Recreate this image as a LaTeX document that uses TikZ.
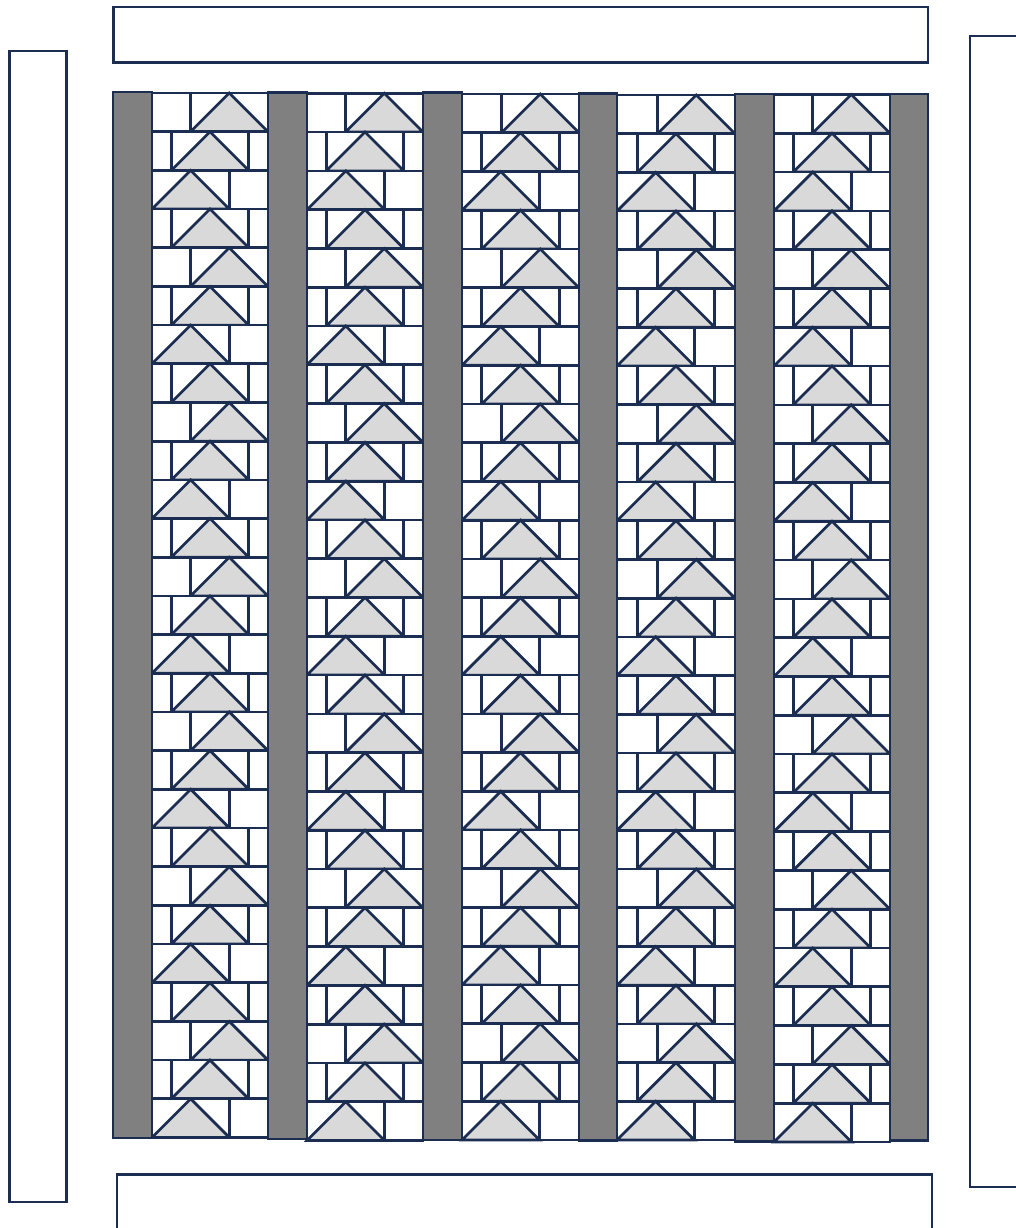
\documentclass[tikz,border=0pt]{standalone}
\definecolor{navy}{RGB}{28,45,82}
\definecolor{sashgray}{RGB}{128,128,128}
\definecolor{goosegray}{RGB}{217,217,217}
\begin{document}
\begin{tikzpicture}[x=1pt,y=-1pt,line width=2.7pt,line join=miter,
  outline/.style={draw=navy},
  sashstrip/.style={draw=navy,fill=sashgray},
  fillerrow/.style={draw=navy,fill=white},
  goosetri/.style={draw=navy,fill=goosegray},
  borderpiece/.style={draw=navy,fill=white}]
\useasboundingbox (0,0) rectangle (1015,1228);
% border pieces
\draw[borderpiece] (113.5,7) rectangle (928,62.5);
\draw[borderpiece] (9.5,51) rectangle (66.5,1202);
\draw[outline] (1017,36) -- (970,36) -- (970,1187) -- (1017,1187);
\draw[outline] (117,1230) -- (117,1174.5) -- (932,1174.5) -- (932,1230);
% block columns
\foreach \lx/\rx/\ty/\by in {152/268/93/1137.5, 307/423/93.3/1140.5, 462/579/94/1140, 617/735/95/1140, 774/890/94.5/1142}{
  \pgfmathsetmacro\hh{(\by-\ty)/27}
  \pgfmathsetmacro\ww{\rx-\lx}
  \foreach \k in {0,...,26}{
    \pgfmathsetmacro\ya{\ty+\k*\hh}
    \pgfmathsetmacro\yb{\ya+\hh}
    \pgfmathtruncatemacro\mm{mod(\k,4)}
    \pgfmathsetmacro\gx{ifthenelse(\mm==0,\rx-2*\hh,ifthenelse(\mm==2,\lx,\lx+(\ww-2*\hh)/2))}
    \pgfmathsetmacro\gm{\gx+\hh}
    \pgfmathsetmacro\gr{\gx+2*\hh}
    \draw[fillerrow] (\lx,\ya) rectangle (\rx,\yb);
    \draw[goosetri] (\gx,\yb) -- (\gm,\ya) -- (\gr,\yb) -- cycle;
    \draw[outline] (\gx,\ya) -- (\gx,\yb) (\gr,\ya) -- (\gr,\yb);
  }
}
% sashing strips
\foreach \lx/\rx/\ty/\by in {113/152/92/1138, 268/307/92.3/1139, 423/462/92.5/1140, 579/617/93.3/1140.5, 735/774/94/1141.5, 890/928/94/1140.7}{
  \draw[sashstrip] (\lx,\ty) rectangle (\rx,\by);
}
\end{tikzpicture}
\end{document}
